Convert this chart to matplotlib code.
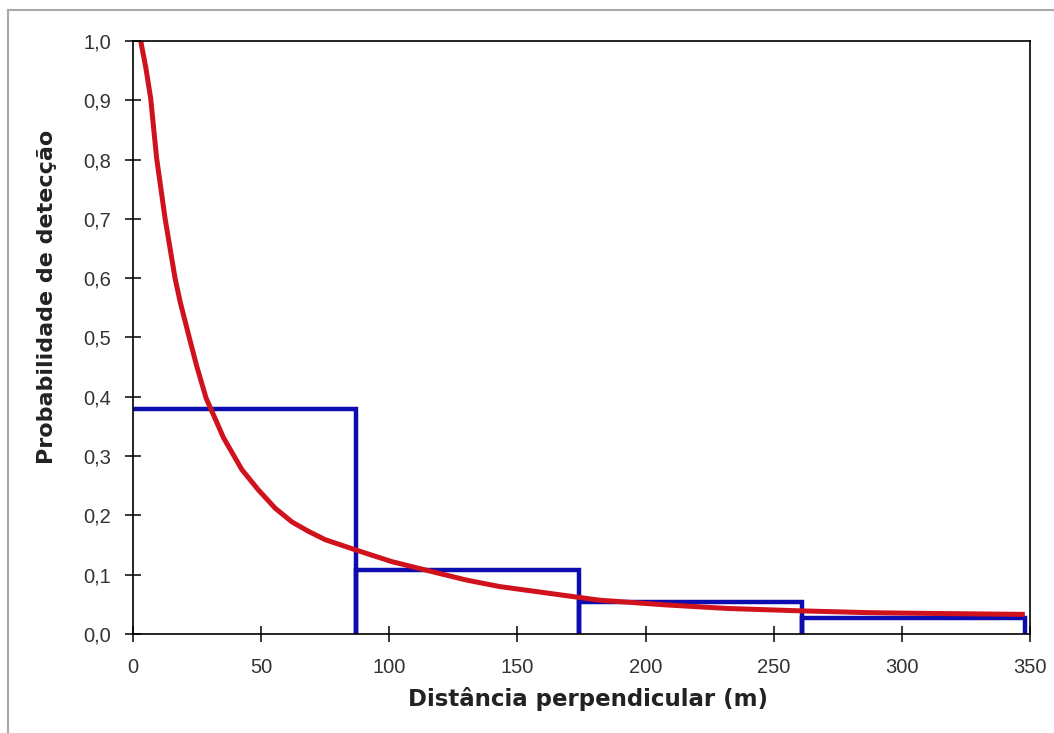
import matplotlib
matplotlib.use("Agg")
import matplotlib.pyplot as plt
from matplotlib.lines import Line2D
from matplotlib.ticker import FuncFormatter

# histogram of observed detections (bin edges and heights)
bin_left = [0, 87, 174, 261]
bin_width = [87, 87, 87, 87]
bin_height = [0.38, 0.108, 0.054, 0.027]

# fitted detection function
curve_x = [3.0, 5.0, 6.9, 9.2, 12.5, 16.4, 18.4, 22.0, 24.9, 28.5, 35.3,
           42.5, 48.9, 55.5, 62.0, 68.5, 75.0, 86.7, 101, 114, 130, 143,
           161.6, 182, 208, 232, 260.5, 286.6, 303.5, 348]
curve_y = [1.0, 0.955, 0.903, 0.803, 0.701, 0.600, 0.560, 0.499, 0.451,
           0.398, 0.331, 0.277, 0.243, 0.212, 0.189, 0.173, 0.159, 0.142,
           0.122, 0.108, 0.091, 0.080, 0.069, 0.057, 0.049, 0.043, 0.039,
           0.036, 0.035, 0.033]

x_ticks = [0, 50, 100, 150, 200, 250, 300, 350]
y_ticks = [0.0, 0.1, 0.2, 0.3, 0.4, 0.5, 0.6, 0.7, 0.8, 0.9, 1.0]

RED = '#d0121c'
BLUE = '#0c0cb0'

plt.rcParams['font.family'] = ['Liberation Sans', 'DejaVu Sans']

fig = plt.figure(figsize=(10.54, 7.33), dpi=100)
ax = fig.add_axes([0.1262, 0.1351, 0.8510, 0.8090])

# outline of the histogram bars: top of each bin, then down to zero
hist_x = [bin_left[0]]
hist_y = [bin_height[0]]
for left, w, h in zip(bin_left, bin_width, bin_height):
    hist_x += [left, left + w, left + w]
    hist_y += [h, h, 0]
ax.plot(hist_x, hist_y, color=BLUE, linewidth=3.2, zorder=2,
        solid_joinstyle='miter', solid_capstyle='butt')
ax.plot(curve_x, curve_y, color=RED, linewidth=3.6, zorder=3,
        solid_capstyle='butt', solid_joinstyle='round')

ax.set_xlim(0, 350)
ax.set_ylim(0, 1.0)
ax.set_xticks(x_ticks)
ax.set_yticks(y_ticks)
ax.yaxis.set_major_formatter(FuncFormatter(lambda v, p: ('%.1f' % v).replace('.', ',')))
ax.xaxis.set_major_formatter(FuncFormatter(lambda v, p: '%d' % v))

ax.tick_params(axis='both', direction='inout', length=11, width=1.1,
               colors='black', labelcolor='#333333', labelsize=14.5)
ax.tick_params(axis='y', pad=10)
ax.tick_params(axis='x', pad=12)

for s in ax.spines.values():
    s.set_linewidth(1.2)
    s.set_color('black')
    s.set_zorder(4)

ax.set_xlabel('Distância perpendicular (m)', fontsize=16.5, fontweight='bold',
              color='#222222', family=['DejaVu Sans'])
ax.set_ylabel('Probabilidade de detecção', fontsize=16, fontweight='bold',
              color='#222222', family=['DejaVu Sans'])
ax.xaxis.set_label_coords(0.507, -0.09)
ax.yaxis.set_label_coords(-0.085, 0.568)

# outer frame (left and top edges visible in the screenshot)
fig.add_artist(Line2D([8 / 1054, 8 / 1054], [0, 1 - 10 / 733],
                      transform=fig.transFigure, color='#a8a8a8', lw=1.5))
fig.add_artist(Line2D([8 / 1054, 1], [1 - 10 / 733, 1 - 10 / 733],
                      transform=fig.transFigure, color='#a8a8a8', lw=1.5))

fig.savefig('out.png', dpi=100)
